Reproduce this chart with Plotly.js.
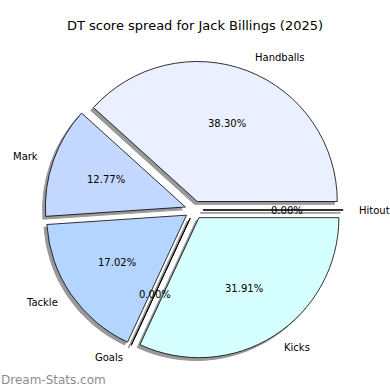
<!DOCTYPE html>
<html>
<head>
<meta charset="utf-8">
<script src="https://cdn.plot.ly/plotly-3.0.1.min.js"></script>
<style>html,body{margin:0;padding:0;background:#fff;}#chart{width:390px;height:390px;}</style>
</head>
<body>
<div id="chart"></div>
<script>
const categories = ["Handballs", "Mark", "Tackle", "Goals", "Kicks", "Hitout"];
const counts = [18, 6, 8, 0, 15, 0];
const sliceColors = ["#eaf0ff", "#c4d7ff", "#b4d5ff", "#c8e4ff", "#d6ffff", "#e0e8ff"];
const titleText = "DT score spread for Jack Billings (2025)";
const watermark = "Dream-Stats.com";

const W = 390, H = 390;
const pullFrac = 0.065;
const cxPx = 194, cyPx = 210, rPx = 140;
const box = 2 * rPx * (1 + pullFrac);
const shadowOff = 2.8;
const shadowColor = '#999999';

function domainAt(cx, cy) {
  return {
    x: [(cx - box / 2) / W, (cx + box / 2) / W],
    y: [1 - (cy + box / 2) / H, 1 - (cy - box / 2) / H]
  };
}

const total = counts.reduce((a, b) => a + b, 0);
// Plotly counterclockwise: first slice ends at `rotation`; start it at 3 o'clock
const rotation = 90 - counts[0] / total * 360;

const pulls = categories.map(() => pullFrac);
const common = {
  type: 'pie', labels: categories, values: counts, sort: false,
  direction: 'counterclockwise', rotation: rotation, pull: pulls,
  textinfo: 'none', hoverinfo: 'skip', showlegend: false
};

const shadow = Object.assign({}, common, {
  domain: domainAt(cxPx - shadowOff, cyPx + shadowOff),
  marker: {colors: categories.map(() => shadowColor), line: {color: shadowColor, width: 1}}
});
const main = Object.assign({}, common, {
  domain: domainAt(cxPx, cyPx),
  marker: {colors: sliceColors, line: {color: '#000000', width: 0.8}}
});

// zero-value slices drawn as edge lines (pixel axes), plus labels
const annotations = [];
const zeroX = [], zeroY = [], zsX = [], zsY = [];
let cum = 0;
counts.forEach((v, i) => {
  const a0 = cum / total * 2 * Math.PI;
  cum += v;
  const a1 = cum / total * 2 * Math.PI;
  const mid = (a0 + a1) / 2;
  const c = Math.cos(mid), s = Math.sin(mid);
  const ox = cxPx + pullFrac * rPx * c, oy = cyPx - pullFrac * rPx * s;
  if (v === 0) {
    zeroX.push(ox, ox + rPx * c, null); zeroY.push(oy, oy - rPx * s, null);
    zsX.push(ox - shadowOff, ox + rPx * c - shadowOff, null);
    zsY.push(oy + shadowOff, oy - rPx * s + shadowOff, null);
  }
  const lx = ox + 1.1 * rPx * c, ly = oy - 1.1 * rPx * s;
  const px = ox + 0.6 * rPx * c, py = oy - 0.6 * rPx * s;
  annotations.push({
    xref: 'paper', yref: 'paper', x: lx / W, y: 1 - ly / H,
    xanchor: c > 0 ? 'left' : 'right', yanchor: 'middle', showarrow: false,
    text: categories[i], font: {family: 'DejaVu Sans', size: 10, color: '#000'}
  });
  annotations.push({
    xref: 'paper', yref: 'paper', x: px / W, y: 1 - py / H,
    xanchor: 'center', yanchor: 'middle', showarrow: false,
    text: (v / total * 100).toFixed(2) + '%', font: {family: 'DejaVu Sans', size: 10, color: '#000'}
  });
});
annotations.push({
  xref: 'paper', yref: 'paper', x: -1 / W, y: 1 - 380 / H,
  xanchor: 'left', yanchor: 'middle', showarrow: false,
  text: watermark, font: {family: 'DejaVu Sans', size: 12, color: '#8c8c8c'}
});

const zeroShadow = {type: 'scatter', mode: 'lines', x: zsX, y: zsY, hoverinfo: 'skip',
  showlegend: false, line: {color: shadowColor, width: 1.2}};
const zeroLines = {type: 'scatter', mode: 'lines', x: zeroX, y: zeroY, hoverinfo: 'skip',
  showlegend: false, line: {color: '#000000', width: 0.9}};

const hiddenAxis = {visible: false, showgrid: false, zeroline: false, fixedrange: true};
const layout = {
  width: W, height: H, margin: {l: 0, r: 0, t: 0, b: 0},
  paper_bgcolor: '#fff', plot_bgcolor: 'rgba(0,0,0,0)',
  xaxis: Object.assign({range: [0, W], domain: [0, 1]}, hiddenAxis),
  yaxis: Object.assign({range: [H, 0], domain: [0, 1]}, hiddenAxis),
  title: {text: titleText, x: 0.5, xanchor: 'center', y: 1 - 25 / H, yanchor: 'middle',
          font: {family: 'DejaVu Sans', size: 13, color: '#000'}},
  annotations: annotations
};
Plotly.newPlot('chart', [shadow, main, zeroShadow, zeroLines], layout, {staticPlot: true});
</script>
</body>
</html>
